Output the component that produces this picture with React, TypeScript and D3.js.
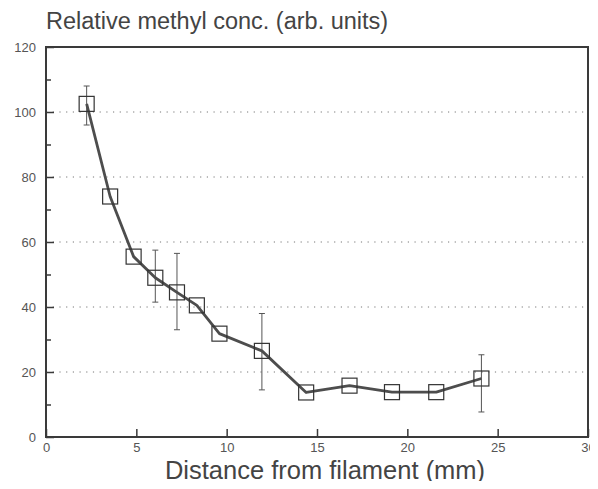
import React, { useRef, useEffect } from 'react';
import * as d3 from 'd3';

// distance (mm) and relative methyl concentration
const distance = [2.25, 3.55, 4.85, 6.05, 7.25, 8.35, 9.6, 11.95, 14.4, 16.8, 19.15, 21.6, 24.1];
const conc = [102.5, 74, 55.5, 49, 44.5, 40.5, 31.8, 26.5, 13.7, 15.8, 13.8, 13.8, 18];
const errLow = [96, null, null, 41.5, 33, null, null, 14.5, null, null, null, null, 7.7];
const errHigh = [108, null, null, 57.5, 56.5, null, null, 38, null, null, null, null, 25.3];
const xTicks = [0, 5, 10, 15, 20, 25, 30];
const yTicks = [0, 20, 40, 60, 80, 100, 120];
const gridLines = [20, 40, 60, 80, 100];

const App = () => {
  const svgRef = useRef<SVGSVGElement>(null);

  useEffect(() => {
    const w = 598;
    const h = 489;
    const svg = d3.select(svgRef.current).attr('width', w).attr('height', h);
    svg.selectAll('*').remove();

    const x = d3.scaleLinear().domain([0, 30]).range([46, 588]);
    const y = d3.scaleLinear().domain([0, 120]).range([437, 47]);
    const ink = '#3a3a3a';
    const font = 'Liberation Sans, Arial, sans-serif';

    // dotted grid
    svg
      .append('g')
      .selectAll('line')
      .data(gridLines)
      .join('line')
      .attr('x1', x(0))
      .attr('x2', x(30))
      .attr('y1', (d) => y(d))
      .attr('y2', (d) => y(d))
      .attr('stroke', '#777')
      .attr('stroke-width', 1)
      .attr('stroke-dasharray', '1.2,5.5');

    // frame
    svg
      .append('rect')
      .attr('x', x(0))
      .attr('y', y(120))
      .attr('width', x(30) - x(0))
      .attr('height', y(0) - y(120))
      .attr('fill', 'none')
      .attr('stroke', ink)
      .attr('stroke-width', 2);

    // x axis ticks (inward)
    const xAxis = d3.axisBottom(x).tickValues(xTicks).tickSize(-8).tickPadding(6);
    const gx = svg.append('g').attr('transform', `translate(0,${y(0)})`).call(xAxis);
    gx.select('.domain').remove();
    gx.selectAll('line').attr('stroke', ink).attr('stroke-width', 1.5);
    gx.selectAll('text')
      .attr('font-family', font)
      .attr('font-size', 13)
      .attr('fill', '#555');

    // y axis with minor ticks
    const yMinor = d3.axisLeft(y).tickValues(d3.range(10, 120, 20)).tickSize(-5).tickFormat(() => '');
    const gym = svg.append('g').attr('transform', `translate(${x(0)},0)`).call(yMinor);
    gym.select('.domain').remove();
    gym.selectAll('line').attr('stroke', ink).attr('stroke-width', 1.5);

    const yAxis = d3.axisLeft(y).tickValues(yTicks).tickSize(-8).tickPadding(10);
    const gy = svg.append('g').attr('transform', `translate(${x(0)},0)`).call(yAxis);
    gy.select('.domain').remove();
    gy.selectAll('line').attr('stroke', ink).attr('stroke-width', 1.5);
    gy.selectAll('text')
      .attr('font-family', font)
      .attr('font-size', 13)
      .attr('fill', '#555');

    const pts = distance.map((d, i) => ({ x: d, y: conc[i], lo: errLow[i], hi: errHigh[i] }));

    // error bars
    const eb = svg
      .append('g')
      .selectAll('g')
      .data(pts.filter((p) => p.lo !== null))
      .join('g')
      .attr('stroke', '#555')
      .attr('stroke-width', 1);
    eb.append('line')
      .attr('x1', (d) => x(d.x))
      .attr('x2', (d) => x(d.x))
      .attr('y1', (d) => y(d.lo as number))
      .attr('y2', (d) => y(d.hi as number));
    eb.append('line')
      .attr('x1', (d) => x(d.x) - 3)
      .attr('x2', (d) => x(d.x) + 3)
      .attr('y1', (d) => y(d.hi as number))
      .attr('y2', (d) => y(d.hi as number));
    eb.append('line')
      .attr('x1', (d) => x(d.x) - 3)
      .attr('x2', (d) => x(d.x) + 3)
      .attr('y1', (d) => y(d.lo as number))
      .attr('y2', (d) => y(d.lo as number));

    // line
    const line = d3
      .line<{ x: number; y: number }>()
      .x((d) => x(d.x))
      .y((d) => y(d.y));
    svg
      .append('path')
      .attr('d', line(pts))
      .attr('fill', 'none')
      .attr('stroke', '#4d4d4d')
      .attr('stroke-width', 2.8)
      .attr('stroke-linejoin', 'round');

    // square markers
    svg
      .append('g')
      .selectAll('rect')
      .data(pts)
      .join('rect')
      .attr('x', (d) => x(d.x) - 7.5)
      .attr('y', (d) => y(d.y) - 7.5)
      .attr('width', 15)
      .attr('height', 15)
      .attr('fill', 'none')
      .attr('stroke', '#333')
      .attr('stroke-width', 1.2);

    // titles
    svg
      .append('text')
      .attr('x', 46)
      .attr('y', 29)
      .attr('font-family', font)
      .attr('font-size', 23.5)
      .attr('fill', '#444')
      .text('Relative methyl conc. (arb. units)');
    svg
      .append('text')
      .attr('x', 325)
      .attr('y', 479)
      .attr('text-anchor', 'middle')
      .attr('font-family', font)
      .attr('font-size', 25.5)
      .attr('fill', '#444')
      .text('Distance from filament (mm)');
  }, []);

  return (
    <div style={{ margin: -8 }}>
      <svg ref={svgRef} style={{ display: 'block' }}></svg>
    </div>
  );
};

export default App;
